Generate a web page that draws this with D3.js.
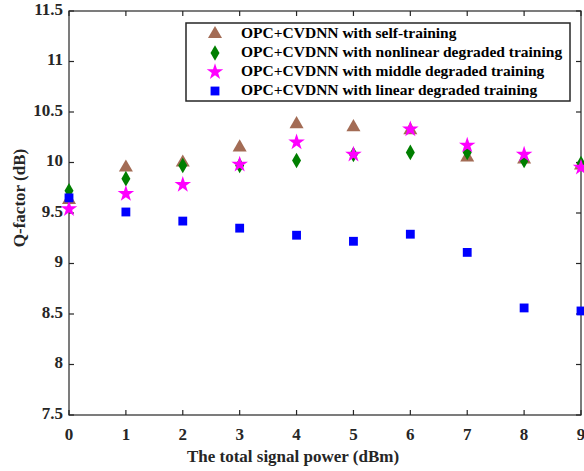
<!DOCTYPE html>
<html><head><meta charset="utf-8">
<script src="https://cdn.jsdelivr.net/npm/d3@7"></script>
<style>body{margin:0;background:#fff}svg{display:block}</style>
</head><body><svg id="c" width="584" height="471"></svg>
<script>
const power = [0,1,2,3,4,5,6,7,8,9];
const selfTraining = [9.63, 9.95, 10.00, 10.15, 10.38, 10.35, 10.32, 10.05, 10.03, 9.97];
const nonlinearTraining = [9.72, 9.84, 9.97, 9.97, 10.02, 10.08, 10.10, 10.10, 10.02, 9.99];
const middleTraining = [9.54, 9.69, 9.78, 9.98, 10.20, 10.08, 10.33, 10.17, 10.08, 9.95];
const linearTraining = [9.65, 9.51, 9.42, 9.35, 9.28, 9.22, 9.29, 9.11, 8.56, 8.53];
const seriesNames = ["OPC+CVDNN with self-training","OPC+CVDNN with nonlinear degraded training","OPC+CVDNN with middle degraded training","OPC+CVDNN with linear degraded training"];
const xTicks = [0,1,2,3,4,5,6,7,8,9];
const yTicks = [7.5,8,8.5,9,9.5,10,10.5,11,11.5];

const series = [
  {name: seriesNames[0], values: selfTraining, symbol: d3.symbolTriangle, size: 85, color: "#a36c55"},
  {name: seriesNames[1], values: nonlinearTraining, symbol: d3.symbolDiamond, size: 70, color: "#007f00"},
  {name: seriesNames[2], values: middleTraining, symbol: d3.symbolStar, size: 85, color: "#ff00ff"},
  {name: seriesNames[3], values: linearTraining, symbol: d3.symbolSquare, size: 78, color: "#0000ff"}
];

const L = 69, R = 581, T = 11, B = 415;
const svg = d3.select("#c");
const x = d3.scaleLinear().domain([0,9]).range([L,R]);
const y = d3.scaleLinear().domain([7.5,11.5]).range([B,T]);
const font = "'Liberation Serif','Times New Roman',serif";
const axCol = "#262626";

// frame
svg.append("rect").attr("x",L).attr("y",T).attr("width",R-L).attr("height",B-T)
  .attr("fill","none").attr("stroke",axCol).attr("stroke-width",1.2);

// ticks inward
const tk = 5;
const gt = svg.append("g").attr("stroke",axCol).attr("stroke-width",1.2);
xTicks.forEach(v=>{
  gt.append("line").attr("x1",x(v)).attr("x2",x(v)).attr("y1",B).attr("y2",B-tk);
  gt.append("line").attr("x1",x(v)).attr("x2",x(v)).attr("y1",T).attr("y2",T+tk);
});
yTicks.forEach(v=>{
  gt.append("line").attr("x1",L).attr("x2",L+tk).attr("y1",y(v)).attr("y2",y(v));
  gt.append("line").attr("x1",R).attr("x2",R-tk).attr("y1",y(v)).attr("y2",y(v));
});

// tick labels
svg.append("g").selectAll("text").data(xTicks).join("text")
  .attr("x",d=>x(d)).attr("y",B+21).attr("dominant-baseline","middle").attr("text-anchor","middle")
  .attr("font-family",font).attr("font-weight","bold").attr("font-size",17).attr("fill","#262626")
  .text(d=>d);
svg.append("g").selectAll("text").data(yTicks).join("text")
  .attr("x",L-6).attr("y",d=>y(d)).attr("dominant-baseline","middle").attr("text-anchor","end")
  .attr("font-family",font).attr("font-weight","bold").attr("font-size",17).attr("fill","#262626")
  .text(d=>d);

// axis titles
svg.append("text").attr("x",293).attr("y",458).attr("dominant-baseline","middle").attr("text-anchor","middle")
  .attr("font-family",font).attr("font-weight","bold").attr("font-size",17).attr("fill","#262626")
  .text("The total signal power (dBm)");
svg.append("text").attr("transform","translate(21,198) rotate(-90)").attr("dominant-baseline","middle").attr("text-anchor","middle")
  .attr("font-family",font).attr("font-weight","bold").attr("font-size",17).attr("fill","#262626")
  .text("Q-factor (dB)");

// markers
series.forEach(s=>{
  svg.append("g").selectAll("path").data(power).join("path")
    .attr("transform",(d,i)=>`translate(${x(d)},${y(s.values[i])})`)
    .attr("d",d3.symbol().type(s.symbol).size(s.size)())
    .attr("fill",s.color);
});

// legend
const lg = svg.append("g");
lg.append("rect").attr("x",186).attr("y",23).attr("width",384).attr("height",78)
  .attr("fill","#fff").attr("stroke",axCol).attr("stroke-width",1.5);
const rowY = [34, 53, 72, 91];
series.forEach((s,i)=>{
  lg.append("path").attr("transform",`translate(215,${rowY[i]})`)
    .attr("d",d3.symbol().type(s.symbol).size(s.size)()).attr("fill",s.color);
  lg.append("text").attr("x",241).attr("y",rowY[i]).attr("dominant-baseline","middle")
    .attr("font-family",font).attr("font-weight","bold").attr("font-size",15.5).attr("fill","#000")
    .text(s.name);
});
</script></body></html>
